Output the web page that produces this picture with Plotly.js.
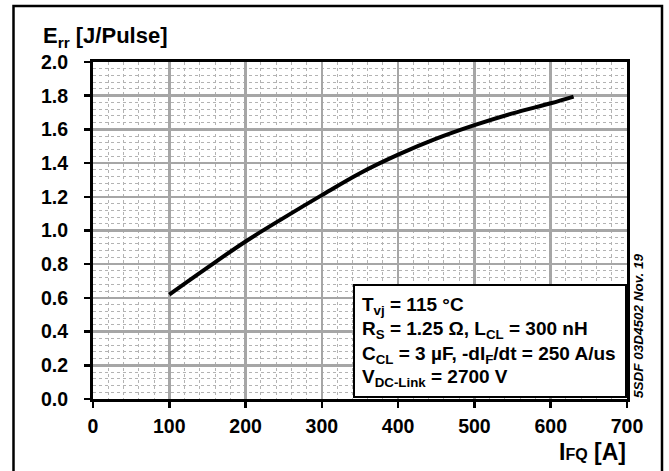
<!DOCTYPE html>
<html>
<head>
<meta charset="utf-8">
<script src="https://cdn.plot.ly/plotly-3.0.1.min.js"></script>
<style>
html,body{margin:0;padding:0;background:#fff;}
#chart{width:669px;height:471px;}
</style>
</head>
<body>
<div id="chart"></div>
<script>
// Data
const currentA = [100, 150, 200, 250, 300, 350, 400, 450, 500, 550, 600, 630];
const errJ = [0.62, 0.78, 0.935, 1.075, 1.21, 1.34, 1.45, 1.545, 1.625, 1.695, 1.755, 1.795];
const xTicks = [0, 100, 200, 300, 400, 500, 600, 700];
const yTicks = [0.0, 0.2, 0.4, 0.6, 0.8, 1.0, 1.2, 1.4, 1.6, 1.8, 2.0];
const yTickText = yTicks.map(v => v.toFixed(1));
const conditionLines = [
  'T<sub>vj</sub> = 115 °C',
  'R<sub>S</sub> = 1.25 Ω, L<sub>CL</sub> = 300 nH',
  'C<sub>CL</sub> = 3 µF, -dI<sub>F</sub>/dt = 250 A/us',
  'V<sub>DC-Link</sub> = 2700 V'
];
const yTitle = 'E<sub>rr</sub> [J/Pulse]';
const xTitle = 'I<span style="font-size:16px">FQ</span> [A]';
const docId = '5SDF 03D4502 Nov. 19';

const FONT = 'Liberation Sans, Arial, sans-serif';
const plotL = 93, plotR = 627, plotT = 62, plotB = 399;
const W = 669, H = 471;
const pw = plotR - plotL, ph = plotB - plotT;
const px = v => (v - plotL) / pw;
const py = v => (plotB - v) / ph;

const trace = {
  x: currentA, y: errJ, type: 'scatter', mode: 'lines',
  line: {color: '#000', width: 4, shape: 'spline'},
  hoverinfo: 'skip'
};

const annotations = [
  {text: '<b>' + yTitle + '</b>', xref: 'paper', yref: 'paper', x: px(40.5), y: py(53),
   xanchor: 'left', yanchor: 'bottom', showarrow: false, font: {family: FONT, size: 22, color: '#000'}},
  {text: '<b>' + xTitle + '</b>', xref: 'paper', yref: 'paper', x: px(628), y: py(467),
   xanchor: 'right', yanchor: 'bottom', showarrow: false, font: {family: FONT, size: 23, color: '#000'}},
  {text: '<b><i>' + docId + '</i></b>', xref: 'paper', yref: 'paper', x: px(638), y: py(326),
   xanchor: 'center', yanchor: 'middle', textangle: -90, showarrow: false,
   font: {family: FONT, size: 13.5, color: '#000'}}
];
const lineBase = [311, 335, 360, 383];
conditionLines.forEach((t, i) => {
  annotations.push({text: '<b>' + t + '</b>', xref: 'paper', yref: 'paper', x: px(360), y: py(lineBase[i] + 9),
    xanchor: 'left', yanchor: 'bottom', showarrow: false, font: {family: FONT, size: 19, color: '#000'}});
});

const shapes = [
  {type: 'rect', xref: 'paper', yref: 'paper', x0: px(354), x1: px(626), y0: py(397), y1: py(285),
   line: {color: '#000', width: 2}, fillcolor: '#fff', layer: 'above'},
  {type: 'path', xref: 'paper', yref: 'paper',
   path: `M ${px(13.5)} ${py(480)} L ${px(13.5)} ${py(6)} L ${px(662)} ${py(6)} L ${px(662)} ${py(480)}`,
   line: {color: '#000', width: 2.5}}
];

const axisCommon = {
  showline: true, linecolor: '#000', linewidth: 3, mirror: true,
  ticks: 'outside', ticklen: 6, tickwidth: 2.5, tickcolor: '#000',
  showgrid: true, gridcolor: '#a6a6a6', gridwidth: 2.5,
  zeroline: false, fixedrange: true,
  tickfont: {family: FONT, size: 19.5, color: '#000', weight: 'bold'}
};

const layout = {
  width: W, height: H,
  margin: {l: plotL, r: W - plotR, t: plotT, b: H - plotB, pad: 0},
  paper_bgcolor: '#fff', plot_bgcolor: '#fff',
  showlegend: false,
  xaxis: Object.assign({}, axisCommon, {
    range: [0, 700], tickvals: xTicks, ticktext: xTicks.map(String), ticklabelstandoff: 2,
    minor: {dtick: 20, showgrid: true, gridcolor: '#b3b3b3', griddash: 'dot', gridwidth: 1, ticks: ''}
  }),
  yaxis: Object.assign({}, axisCommon, {
    range: [0, 2.0], tickvals: yTicks, ticktext: yTickText, ticklabelstandoff: 12,
    minor: {dtick: 0.04, showgrid: true, gridcolor: '#b3b3b3', griddash: 'dot', gridwidth: 1, ticks: ''}
  }),
  annotations: annotations,
  shapes: shapes
};

Plotly.newPlot('chart', [trace], layout, {staticPlot: true, displayModeBar: false});
</script>
</body>
</html>
